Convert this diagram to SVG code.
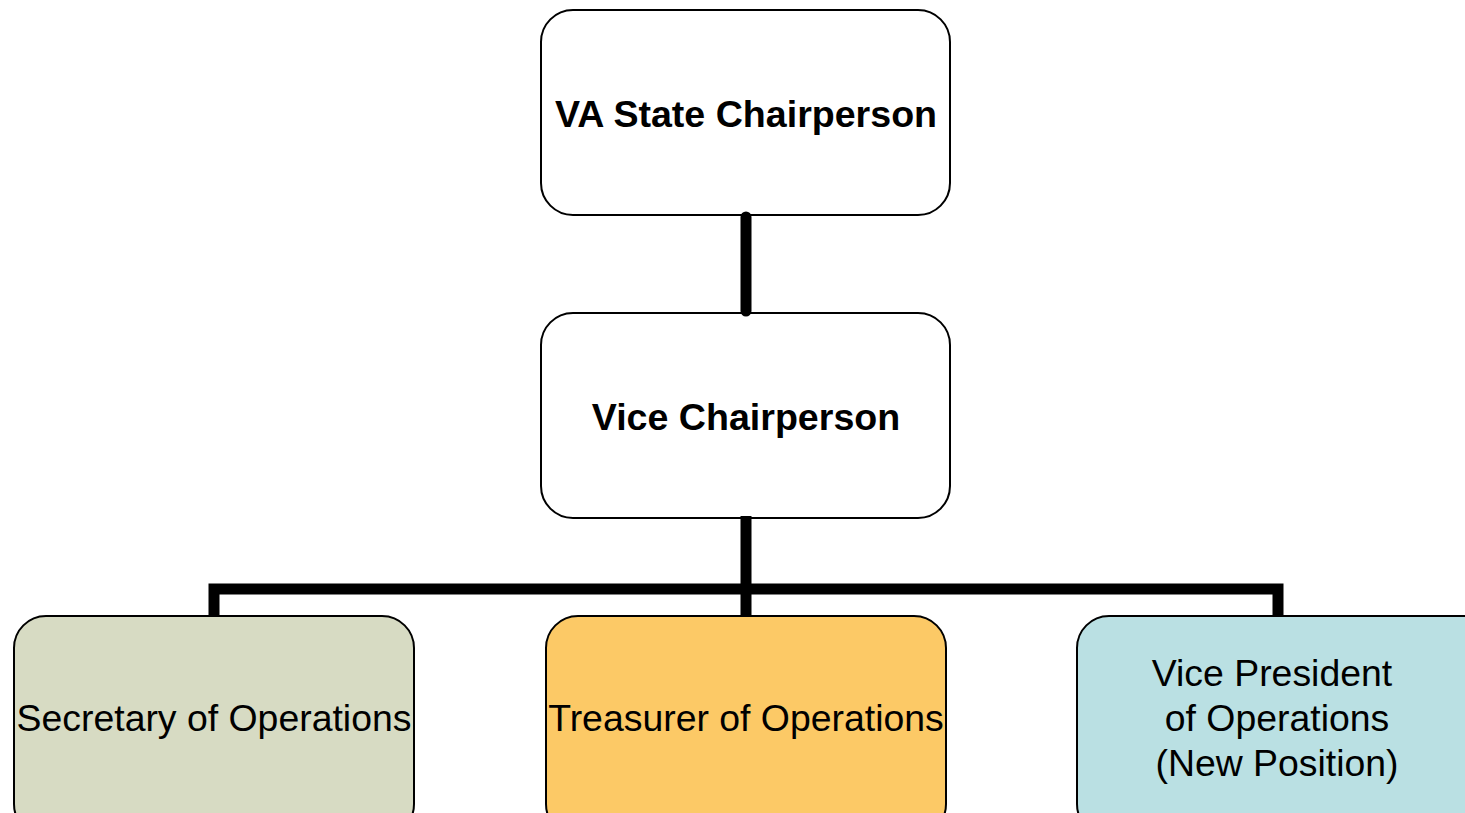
<svg xmlns="http://www.w3.org/2000/svg" width="1465" height="813" viewBox="0 0 1465 813">
<style>
.box{stroke:#000;stroke-width:2}
.t{font-family:"Liberation Sans",Arial,sans-serif;font-size:37.4px;fill:#000;text-anchor:middle}
.b{font-weight:bold;font-size:37.6px}
.c{stroke:#000;stroke-width:11;fill:none}
</style>
<rect width="1465" height="813" fill="#fff"/>
<g id="chair">
<rect class="box" x="541" y="10" width="409" height="205" rx="32" fill="#fff"/>
<text class="t b" x="746" y="127">VA State Chairperson</text>
</g>
<g id="vice">
<rect class="box" x="541" y="313" width="409" height="205" rx="32" fill="#fff"/>
<text class="t b" x="746" y="430">Vice Chairperson</text>
</g>
<g id="secretary">
<rect class="box" x="14" y="616" width="400" height="220" rx="32" fill="#D7DBC3"/>
<text class="t" x="214" y="731">Secretary of Operations</text>
</g>
<g id="treasurer">
<rect class="box" x="546" y="616" width="400" height="220" rx="32" fill="#FCC966"/>
<text class="t" x="746" y="731">Treasurer of Operations</text>
</g>
<g id="vp">
<rect class="box" x="1077" y="616" width="420" height="220" rx="32" fill="#BAE0E3"/>
<text class="t" x="1272" y="686">Vice President</text>
<text class="t" x="1277" y="731">of Operations</text>
<text class="t" x="1277" y="776">(New Position)</text>
</g>
<g id="connectors">
<line class="c" x1="746" y1="217" x2="746" y2="311" stroke-linecap="round"/>
<line class="c" x1="746" y1="516" x2="746" y2="615"/>
<polyline class="c" points="214,615 214,589 1278,589 1278,615" stroke-linejoin="miter"/>
</g>
</svg>
